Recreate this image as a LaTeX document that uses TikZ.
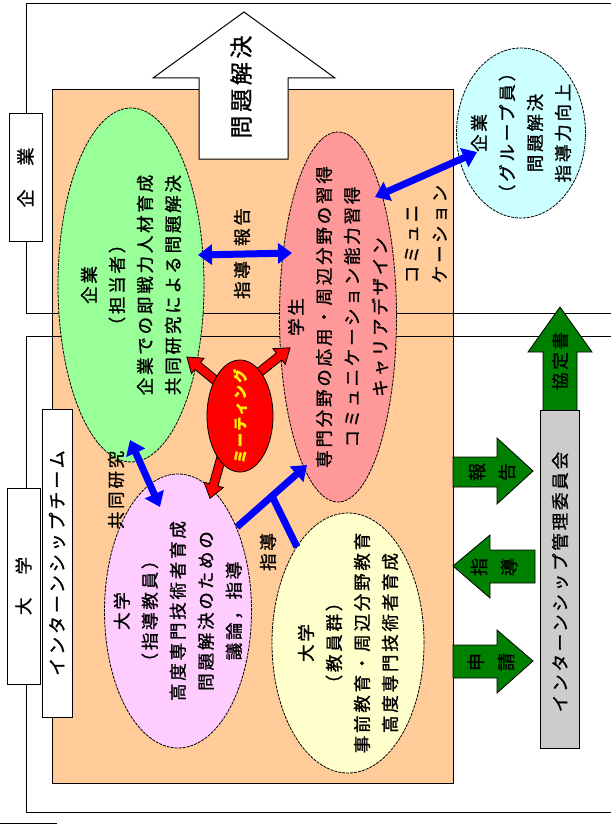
\documentclass[tikz,border=0pt]{standalone}
\usepackage{fontspec}
\setmainfont{Noto Sans CJK JP}[LetterSpace=16, RawFeature={embolden=1.2}]
\usetikzlibrary{shapes.geometric,arrows.meta,calc}
\definecolor{peach}{HTML}{FFCC99}
\definecolor{greenE}{HTML}{99FF99}
\definecolor{pinkE}{HTML}{FF9999}
\definecolor{cyanE}{HTML}{CCFFFF}
\definecolor{lilacE}{HTML}{FFCCFF}
\definecolor{yellowE}{HTML}{FFFFCC}
\definecolor{dkgreen}{HTML}{008000}
\definecolor{greyB}{HTML}{CCCCCC}
\newcommand{\rarrowshape}[3]{%
  \draw[redarr, shift={#1}, rotate=#2] (0,-4.5) -- ({#3-14},-4.5) -- ({#3-14},-10) -- (#3,0) -- ({#3-14},10) -- ({#3-14},4.5) -- (0,4.5) -- cycle;}
\begin{document}
\begin{tikzpicture}[x=1pt,y=-1pt,
  frame/.style={draw=black, line width=1pt},
  labelbox/.style={draw=black, fill=white, line width=1pt},
  blob/.style={ellipse, draw=black, line width=0.8pt, dash pattern=on 3pt off 1pt, inner sep=0pt},
  txt/.style={rotate=90, align=center, inner sep=0pt, font=\fontsize{17.5}{28}\selectfont},
  bluetwo/.style={draw=blue, line width=7pt, arrows={Triangle[length=14pt,width=20pt]-Triangle[length=14pt,width=20pt]}},
  blueone/.style={draw=blue, line width=7pt, arrows={-Triangle[length=14pt,width=20pt]}},
  blueplain/.style={draw=blue, line width=7pt},
  redarr/.style={draw=black, fill=red, line width=0.8pt, line join=miter},
  garrow/.style={draw=black, fill=dkgreen, line width=0.8pt},
  bigarrow/.style={draw=black, fill=white, line width=1pt}]
\useasboundingbox (0,0) rectangle (610,824);
\fill[white] (0,0) rectangle (610,824);

% orange team area
\draw[fill=peach, line width=1pt] (52,90) rectangle (453,783);
% outer frames
\draw[frame] (26,4) rectangle (630,313);
\draw[frame] (26,336) rectangle (630,812);
\draw[line width=1pt] (0,823) -- (57,823);

% big arrow
\draw[bigarrow] (244,12) -- (335,78) -- (288,78) -- (288,159) -- (199,159) -- (199,78) -- (153,78) -- cycle;
\node[txt, font=\fontsize{23}{28}\selectfont] (mondai) at (241,87) {問題解決};

% ellipses
\node[blob, fill=greenE, minimum width=146pt, minimum height=354pt] (green) at (131,285) {};
\node[blob, fill=pinkE, minimum width=117pt, minimum height=370pt] (pink) at (338,317) {};
\node[blob, fill=cyanE, minimum width=129pt, minimum height=170pt] (cyan) at (521,133) {};
\node[blob, fill=lilacE, minimum width=147pt, minimum height=274pt] (lilac) at (178,611) {};
\node[blob, fill=yellowE, minimum width=152pt, minimum height=260pt] (yellow) at (348,643) {};

\node[txt] (greentxt) at (green.center) {企業\\（担当者）\\企業での即戦力人材育成\\共同研究による問題解決};
\node[txt] (pinktxt) at (pink.center) {学生\\専門分野の応用・周辺分野の習得\\コミュニケーション能力習得\\キャリアデザイン};
\node[txt] (cyantxt) at (cyan.center) {企業\\（グループ員）\\問題解決\\指導力向上};
\node[txt] (lilactxt) at (lilac.center) {大学\\（指導教員）\\高度専門技術者育成\\問題解決のための\\議論，指導};
\node[txt] (yellowtxt) at (yellow.center) {大学\\（教員群）\\事前教育・周辺分野教育\\高度専門技術者育成};

% blue connectors
\coordinate (gpA) at (198,255);
\coordinate (gpB) at (292,253);
\coordinate (pcA) at (375,197);
\coordinate (pcB) at (477,152);
\coordinate (glA) at (130,440);
\coordinate (glB) at (160,507);
\coordinate (lpA) at (237,527);
\coordinate (lpB) at (307,465);
\coordinate (yJ) at (297,547);
\coordinate (junc) at ($(lpA)!0.5!(lpB)$);
\draw[bluetwo] (gpA) -- (gpB);
\draw[bluetwo] (pcA) -- (pcB);
\draw[bluetwo] (glA) -- (glB);
\draw[blueplain] (yJ) -- (junc);
\draw[blueone] (lpA) -- (lpB);

\node[txt] (houkoku1) at (242,227) {報告};
\node[txt] (shidou1) at (242,280) {指導};
\node[txt] (kyoudou) at (116,490) {共同研究};
\node[txt] (shidou2) at (268,552) {指導};
\node[txt, align=left] (comm) at (426,234) {コミュニ\\ケーション};

% red meeting arrows
\rarrowshape{(224,387.5)}{140.6}{48}
\rarrowshape{(251,379)}{38.7}{50}
\rarrowshape{(222,455)}{-105.5}{45}
\node[ellipse, draw=black, line width=0.8pt, fill=red, minimum width=66pt, minimum height=112pt, inner sep=0pt] (meet) at (240,416) {};
\node[txt, text=yellow, font=\fontsize{14}{14}\bfseries] (meettxt) at (meet.center) {ミーティング};

% green arrows to committee
\draw[garrow] (453,457) -- (497,457) -- (497,438) -- (533,471) -- (497,504) -- (497,487) -- (453,487) -- cycle;
\draw[garrow] (535,550) -- (490,550) -- (490,535) -- (453,566) -- (490,598) -- (490,583) -- (535,583) -- cycle;
\draw[garrow] (453,645) -- (497,645) -- (497,630) -- (533,661) -- (497,693) -- (497,678) -- (453,678) -- cycle;
\draw[garrow] (543,411) -- (543,352) -- (528,352) -- (560,307) -- (592,352) -- (577,352) -- (577,411) -- cycle;
\node[txt, font=\fontsize{18}{30}\selectfont] (g1) at (492,472) {報\\告};
\node[txt, font=\fontsize{18}{30}\selectfont] (g2) at (494,567) {指\\導};
\node[txt, font=\fontsize{18}{30}\selectfont] (g3) at (491,662) {申\\請};
\node[txt] (kyotei) at (560,361) {協定書};

\draw[draw=black, fill=greyB, line width=1pt] (540,410) rectangle (579,748);
\node[txt] (iinkai) at (560,582) {インターンシップ管理委員会};

% label boxes
\draw[labelbox] (9,114) rectangle (42,241);
\node[txt, font=\fontsize{18}{28}\selectfont] (kigyo) at (25.5,177.5) {企　業};
\draw[labelbox] (7,488) rectangle (40,684);
\node[txt] (daigaku) at (23.5,586) {大　学};
\draw[labelbox] (42,409) rectangle (72,717);
\node[txt, font=\fontsize{18}{28}\selectfont] (team) at (57,563) {インターンシップチーム};
\end{tikzpicture}
\end{document}
